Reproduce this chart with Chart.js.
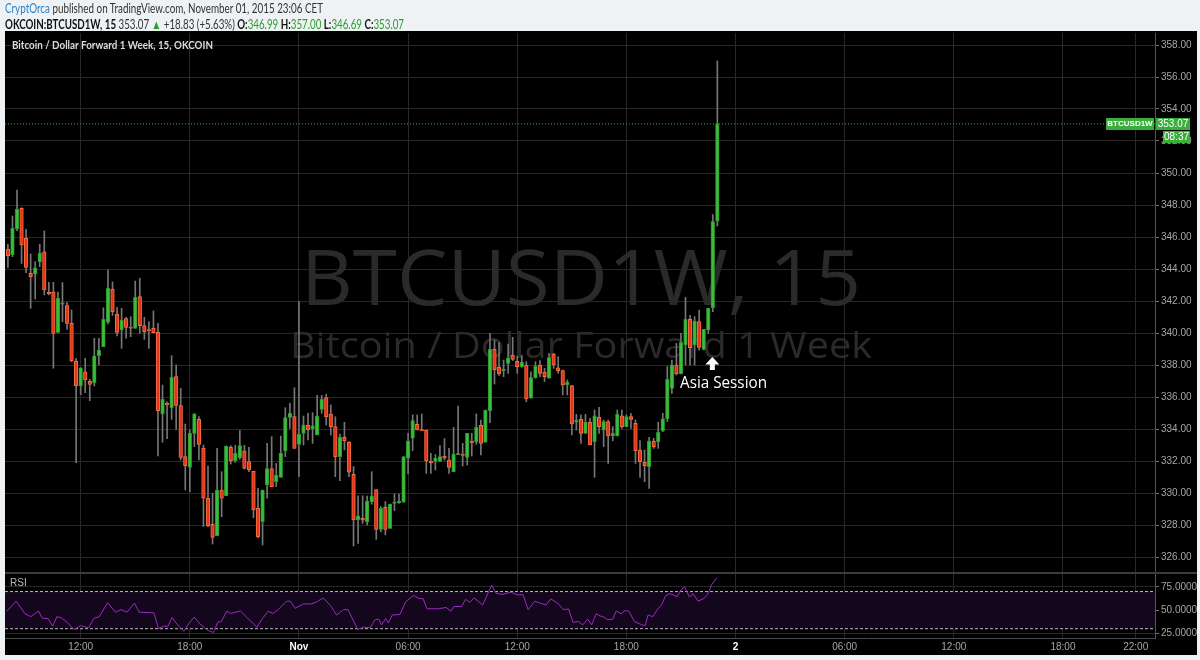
<!DOCTYPE html>
<html>
<head>
<meta charset="utf-8">
<title>BTCUSD1W, 15</title>
<script src="https://cdn.jsdelivr.net/npm/chart.js@4.4.0/dist/chart.umd.min.js"></script>
<style>
  html, body { margin: 0; padding: 0; background: #eff2f5; }
  #wrap { position: relative; width: 1200px; height: 660px; overflow: hidden; }
  #chart { position: absolute; left: 0; top: 0; }
  .head { position: absolute; left: 5px; font-family: Lato, 'Noto Sans', sans-serif; font-size: 13px;
          color: #333; white-space: nowrap; transform-origin: 0 0; line-height: 14px; }
  .author { color: #2a7fc4; }
  .up { color: #2a9d2a; }
  b { color: #111; }
</style>
</head>
<body>
<div id="wrap">
  <canvas id="chart" width="1200" height="660"></canvas>
  <div class="head" id="head1" style="top:1px"><span class="author">CryptOrca</span> published on TradingView.com, November 01, 2015 23:06 CET</div>
  <div class="head" id="head2" style="top:17px"></div>
</div>
<script>
// 15 min candles, Oct 31 08:00 -> Nov 1 23:00 (hours counted from Oct 31 00:00)
const firstHour = 8;
const opens = [
  345.25, 344.90, 346.50, 347.79, 345.92, 343.73, 343.69, 344.46, 345.08, 342.56,
  342.56, 340.04, 341.87, 341.71, 340.60, 338.25, 336.69, 337.58, 336.98, 336.90,
  338.58, 339.15, 340.67, 342.73, 341.17, 340.19, 340.90, 340.35, 340.29, 342.27,
  340.46, 340.20, 340.29, 340.04, 334.94, 335.60, 335.33, 337.27, 335.46, 332.27,
  331.60, 333.73, 334.60, 332.79, 329.67, 328.04, 327.33, 330.19, 329.83, 332.85,
  332.00, 332.21, 332.63, 331.96, 331.35, 329.04, 328.21, 330.50, 331.52, 330.71,
  330.98, 332.65, 334.73, 334.77, 333.04, 333.73, 334.25, 334.00, 333.63, 335.23,
  335.96, 334.92, 334.15, 332.27, 333.48, 333.19, 331.17, 328.31, 328.42, 328.20,
  329.46, 330.21, 327.73, 329.10, 327.79, 329.35, 329.40, 329.42, 332.17, 333.42,
  334.29, 333.94, 333.94, 331.98, 331.98, 331.98, 332.31, 332.06, 331.33, 332.40,
  332.44, 332.23, 333.25, 333.21, 334.23, 333.17, 335.15, 338.98, 337.85, 337.65,
  338.10, 338.60, 338.23, 337.90, 338.00, 335.92, 337.21, 338.00, 337.56, 337.17,
  338.69, 337.83, 337.65, 336.75, 336.71, 334.42, 334.60, 333.73, 334.44, 333.21,
  334.73, 333.94, 334.46, 333.58, 333.56, 334.83, 334.15, 334.77, 334.35, 332.69,
  331.92, 331.65, 333.25, 333.21, 333.90, 334.63, 336.54, 338.00, 337.44, 339.25,
  340.85, 339.25, 340.71, 338.98, 340.19, 341.58, 346.99
];
const highs = [
  345.54, 347.31, 348.94, 347.83, 346.48, 344.94, 344.46, 345.54, 346.38, 343.17,
  343.17, 342.56, 343.15, 341.92, 341.44, 338.42, 337.83, 338.42, 337.10, 339.67,
  339.67, 341.58, 343.94, 343.19, 341.60, 341.54, 340.98, 341.02, 343.25, 343.42,
  340.98, 340.71, 341.38, 340.60, 336.75, 335.70, 338.58, 338.00, 336.54, 334.31,
  333.94, 334.98, 334.77, 333.00, 331.69, 329.98, 332.79, 331.33, 332.94, 332.96,
  332.98, 333.90, 332.98, 332.85, 331.35, 330.29, 330.19, 333.10, 333.52, 331.85,
  333.56, 335.33, 335.60, 336.58, 341.96, 334.81, 334.98, 335.02, 336.10, 336.10,
  336.17, 335.50, 334.77, 333.69, 334.42, 333.21, 331.65, 329.83, 329.83, 329.81,
  331.33, 330.21, 329.15, 329.46, 329.31, 329.94, 329.94, 332.27, 333.73, 334.88,
  334.88, 334.94, 333.94, 332.48, 332.40, 332.96, 333.40, 332.79, 334.10, 335.44,
  333.10, 333.73, 333.73, 334.94, 334.56, 335.19, 339.98, 339.56, 339.40, 338.31,
  339.31, 339.73, 338.56, 338.60, 338.21, 337.58, 338.21, 338.27, 337.79, 338.73,
  338.73, 338.52, 337.69, 337.06, 336.71, 334.92, 334.88, 334.92, 334.67, 335.19,
  335.35, 334.56, 334.56, 334.15, 335.19, 335.19, 334.88, 334.98, 334.56, 333.27,
  332.69, 333.48, 333.42, 334.42, 334.98, 337.90, 338.31, 339.35, 339.98, 342.23,
  341.10, 341.02, 341.44, 340.23, 341.54, 347.40, 357.00
];
const lows = [
  344.10, 344.77, 346.40, 344.35, 343.77, 341.54, 342.13, 344.15, 342.38, 342.38,
  337.80, 340.00, 340.70, 340.23, 338.21, 331.90, 336.15, 336.27, 335.77, 336.69,
  338.00, 339.15, 340.56, 341.10, 339.81, 339.04, 339.67, 339.77, 340.29, 339.98,
  339.60, 339.04, 340.04, 332.31, 333.17, 333.40, 334.60, 333.98, 332.06, 330.19,
  330.08, 332.90, 332.06, 327.90, 327.90, 326.81, 327.33, 328.52, 329.83, 331.81,
  331.92, 332.10, 331.50, 331.33, 328.46, 327.20, 326.75, 329.67, 330.40, 330.40,
  330.98, 332.27, 334.04, 332.79, 331.02, 333.00, 333.31, 333.10, 333.63, 334.98,
  334.25, 333.63, 331.02, 330.77, 332.69, 331.02, 326.69, 326.85, 328.10, 328.00,
  329.30, 327.10, 327.58, 327.38, 327.79, 328.90, 329.35, 329.42, 331.19, 332.65,
  333.94, 333.90, 331.23, 331.23, 331.44, 331.98, 332.06, 331.23, 331.33, 332.40,
  331.69, 331.75, 332.31, 333.04, 332.38, 333.17, 334.40, 336.81, 337.35, 337.27,
  337.48, 338.27, 337.48, 337.85, 335.70, 335.92, 337.17, 337.27, 336.96, 337.17,
  337.79, 337.48, 336.13, 336.13, 333.63, 333.94, 333.10, 333.73, 333.00, 330.98,
  333.73, 332.90, 331.85, 333.27, 333.56, 334.04, 334.15, 334.04, 331.85, 330.98,
  330.71, 330.29, 332.79, 332.79, 333.83, 334.46, 336.23, 337.38, 337.44, 338.00,
  338.00, 338.00, 338.94, 338.94, 339.98, 341.33, 346.69
];
const closes = [
  344.83, 346.54, 347.73, 345.50, 344.10, 343.52, 344.08, 344.98, 342.69, 342.44,
  339.98, 342.19, 341.80, 340.60, 338.25, 336.69, 337.83, 337.06, 336.79, 338.58,
  338.94, 340.85, 342.79, 341.33, 340.04, 340.81, 340.35, 340.30, 342.23, 340.46,
  340.08, 340.15, 340.02, 335.15, 335.85, 335.50, 337.23, 335.48, 332.23, 331.71,
  333.73, 334.94, 333.04, 329.67, 327.96, 327.23, 330.19, 329.67, 332.94, 332.02,
  332.48, 332.96, 331.54, 331.44, 328.94, 327.27, 330.19, 331.52, 330.40, 331.12,
  332.48, 334.71, 334.98, 332.79, 333.69, 334.25, 333.94, 334.20, 334.81, 335.85,
  334.77, 334.15, 332.27, 333.48, 333.27, 331.30, 328.31, 328.58, 328.30, 329.50,
  329.81, 327.73, 329.04, 327.73, 329.31, 329.44, 329.50, 332.27, 333.25, 334.52,
  333.94, 333.90, 332.02, 331.90, 332.19, 332.27, 332.17, 331.60, 332.44, 332.44,
  332.35, 333.73, 333.15, 334.10, 333.10, 335.19, 338.98, 337.69, 337.44, 337.73,
  338.44, 338.35, 337.90, 338.19, 335.88, 337.21, 337.94, 337.48, 337.27, 338.46,
  338.00, 337.65, 336.75, 336.94, 334.31, 334.56, 333.73, 334.44, 333.00, 334.83,
  334.15, 334.46, 333.56, 333.73, 334.92, 334.15, 334.77, 334.60, 332.65, 331.96,
  331.71, 333.25, 332.90, 333.79, 334.63, 337.10, 338.00, 337.44, 339.40, 340.85,
  339.08, 340.75, 339.10, 340.23, 341.54, 346.96, 353.07
];

// RSI(14) line, points
const rsiHours = [
  7.94, 8.45, 8.94, 9.26, 9.68, 9.89, 10.21, 10.46, 10.69, 10.95, 11.26, 11.64, 12.00, 12.43,
  12.74, 13.02, 13.48, 13.91, 14.22, 14.54, 14.96, 15.22, 16.02, 16.28, 16.55, 16.80, 17.02,
  17.29, 17.67, 17.93, 18.24, 18.56, 18.98, 19.30, 19.55, 19.72, 20.04, 20.25, 20.78, 21.20,
  21.69, 21.99, 22.30, 22.58, 22.89, 23.32, 23.53, 23.80, 24.23, 24.69, 25.01, 25.33, 25.75,
  26.07, 26.45, 26.70, 27.23, 27.55, 27.91, 28.18, 28.39, 28.54, 28.77, 28.92, 29.13, 29.55,
  29.87, 30.30, 30.61, 30.82, 31.04, 31.67, 32.09, 32.35, 32.52, 32.94, 33.15, 33.40, 33.62,
  33.89, 34.10, 34.59, 34.84, 35.16, 35.65, 36.00, 36.32, 36.60, 36.96, 37.27, 37.59, 37.84,
  38.23, 38.54, 38.82, 39.07, 39.35, 39.60, 39.88, 40.09, 40.34, 40.55, 40.76, 40.97, 41.25,
  41.44, 41.71, 41.92, 42.14, 42.45, 42.87, 43.04, 43.19, 43.45, 43.72, 43.93, 44.14, 44.35,
  44.57, 44.78, 44.99, 45.20, 45.46, 45.67, 45.94, 46.26, 46.47, 46.68, 46.96
];
const rsiValues = [
  48.8, 59.7, 46.1, 43.0, 49.1, 41.3, 40.9, 32.7, 43.0, 41.6, 36.8, 29.0, 33.4, 31.0,
  41.3, 43.0, 58.0, 47.8, 50.5, 47.8, 57.4, 47.8, 47.1, 30.0, 32.7, 32.7, 42.0,
  35.1, 27.3, 35.1, 42.6, 35.1, 28.3, 25.9, 37.5, 37.5, 49.1, 46.4, 49.1, 40.9,
  31.7, 40.9, 48.8, 46.4, 51.2, 59.7, 59.7, 51.9, 56.7, 56.7, 59.1, 63.2, 54.6,
  44.7, 50.5, 50.5, 29.0, 31.7, 31.0, 39.6, 40.3, 34.1, 40.9, 36.2, 44.7, 45.4,
  59.1, 65.9, 62.5, 62.5, 51.5, 51.5, 52.9, 48.8, 53.9, 53.9, 61.5, 58.4, 63.2,
  59.1, 55.6, 76.8, 68.3, 66.9, 69.3, 66.6, 66.6, 50.5, 59.7, 57.4, 55.6, 62.1,
  57.4, 50.5, 51.2, 36.8, 37.9, 34.1, 40.3, 34.1, 46.1, 43.7, 42.6, 39.6, 40.3,
  49.1, 46.1, 49.5, 48.8, 37.5, 34.1, 33.4, 44.7, 43.0, 51.2, 55.6, 64.9, 67.6,
  66.6, 64.2, 71.7, 75.1, 64.2, 67.6, 59.7, 62.5, 66.9, 77.2, 84.7
];

const timeTicks = [12, 18, 24, 30, 36, 42, 48, 54, 60, 66, 70];
const timeLabels = ['12:00', '18:00', 'Nov', '06:00', '12:00', '18:00', '2', '06:00', '12:00', '18:00', '22:00'];
const dayTicks = [24, 48];
const priceTicks = [326, 328, 330, 332, 334, 336, 338, 340, 342, 344, 346, 348, 350, 352, 354, 356, 358];
const rsiTicks = [25, 50, 75];
const rsiBands = [70, 30];
const prevClose = 334.24;
const countdown = '08:37';

const xMin = 7.84, xMax = 71.06;
const UP = '#3dbd3d', UP_EDGE = '#2a9a2a';
const DOWN = '#e5331c', DOWN_EDGE = '#f07040';
const WICK = '#767676';
const GRID = '#282828';
const AXIS_FONT = 'Liberation Sans, Arial, sans-serif';

const hours = opens.map((_, i) => firstHour + i * 0.25);
const isUp = i => closes[i] >= opens[i];
const isDay = ctx => !!(ctx.tick && dayTicks.includes(ctx.tick.value));
const last = opens.length - 1;

// header line 2 from the last candle
const fmt = v => v.toFixed(2);
const chg = closes[last] - prevClose;
document.getElementById('head2').innerHTML =
  '<b>OKCOIN:BTCUSD1W, 15</b> ' + fmt(closes[last]) + ' <span class="up">&#9650;</span> +' + fmt(chg) +
  ' (+' + (chg / prevClose * 100).toFixed(2) + '%) ' +
  '<b>O:</b><span class="up">' + fmt(opens[last]) + '</span> ' +
  '<b>H:</b><span class="up">' + fmt(highs[last]) + '</span> ' +
  '<b>L:</b><span class="up">' + fmt(lows[last]) + '</span> ' +
  '<b>C:</b><span class="up">' + fmt(closes[last]) + '</span>';

// squeeze header lines to the width they take in the picture
function fitWidth(id, target) {
  const el = document.getElementById(id);
  const w = el.getBoundingClientRect().width;
  el.style.transform = 'scaleX(' + (target / w) + ')';
}
fitWidth('head1', 318);
fitWidth('head2', 399);

function fittedText(c, text, x, y, width, font, align) {
  c.font = font;
  const w = c.measureText(text).width;
  const s = width / w;
  c.save();
  c.translate(x, y);
  c.scale(s, 1);
  c.textAlign = align || 'left';
  c.fillText(text, 0, 0);
  c.restore();
}

const decorations = {
  id: 'decorations',
  beforeDraw(chart) {
    const c = chart.ctx;
    c.save();
    c.fillStyle = '#eff2f5';
    c.fillRect(0, 0, chart.width, chart.height);
    c.fillStyle = '#000';
    c.fillRect(5, 31, 1192, 624);
    c.restore();
  },
  beforeDatasetsDraw(chart) {
    const c = chart.ctx;
    c.save();
    c.fillStyle = '#2a2a2a';
    c.textBaseline = 'alphabetic';
    fittedText(c, 'BTCUSD1W, 15', 581, 305, 560, '77px "Open Sans", "Noto Sans", sans-serif', 'center');
    fittedText(c, 'Bitcoin / Dollar Forward 1 Week', 581, 358, 582, '37px "Open Sans", "Noto Sans", sans-serif', 'center');
    c.restore();
  },
  afterDraw(chart) {
    const c = chart.ctx;
    const y = chart.scales.y;
    const rsi = chart.scales.rsi;
    const x = chart.scales.x;
    c.save();
    // pane separator
    c.fillStyle = '#3c3c3c';
    c.fillRect(5, rsi.top - 1, 1192, 2);

    // title
    c.fillStyle = '#dcdcdc';
    c.textBaseline = 'middle';
    fittedText(c, 'Bitcoin / Dollar Forward 1 Week, 15, OKCOIN', 12, 45, 201, 'bold 12px Lato, "Noto Sans", sans-serif');

    // RSI pane label
    c.fillStyle = '#b8b8b8';
    c.font = '10px ' + AXIS_FONT;
    c.textAlign = 'left';
    c.fillText('RSI', 10, rsi.top + 10);

    // annotation
    const ax = x.getPixelForValue(hours[last]) - 5;
    c.fillStyle = '#fff';
    c.beginPath();
    c.moveTo(ax, 357);
    c.lineTo(ax + 7, 364.5);
    c.lineTo(ax + 2.5, 364.5);
    c.lineTo(ax + 2.5, 370);
    c.lineTo(ax - 2.5, 370);
    c.lineTo(ax - 2.5, 364.5);
    c.lineTo(ax - 7, 364.5);
    c.closePath();
    c.fill();
    c.textBaseline = 'alphabetic';
    fittedText(c, 'Asia Session', 680, 388, 87, '16px "Open Sans", "Noto Sans", sans-serif');

    // last price labels
    const py = Math.round(y.getPixelForValue(closes[last]));
    c.fillStyle = '#3aae3a';
    c.fillRect(1106, py - 6, 48, 12);
    c.fillRect(1156, py - 6, 34, 12);
    c.fillRect(1163, py + 7, 27, 12);
    c.fillStyle = '#fff';
    c.textBaseline = 'middle';
    c.textAlign = 'center';
    c.font = 'bold 8px ' + AXIS_FONT;
    c.fillText('BTCUSD1W', 1130, py);
    c.font = '10px ' + AXIS_FONT;
    c.fillText(fmt(closes[last]), 1173, py);
    c.fillText(countdown, 1176.5, py + 13);
    c.restore();
  }
};

const flat = v => [{ x: xMin, y: v }, { x: xMax, y: v }];

new Chart(document.getElementById('chart'), {
  type: 'bar',
  data: {
    datasets: [
      {
        type: 'line', label: 'RSI', yAxisID: 'rsi', order: 0,
        data: rsiHours.map((h, i) => ({ x: h, y: rsiValues[i] })),
        borderColor: '#9a2cbf', borderWidth: 1, pointRadius: 0, tension: 0
      },
      {
        label: 'body', yAxisID: 'y', order: 1,
        data: hours.map((h, i) => ({ x: h, y: [opens[i], closes[i]] })),
        backgroundColor: ctx => isUp(ctx.dataIndex) ? UP : DOWN,
        borderColor: ctx => isUp(ctx.dataIndex) ? UP_EDGE : DOWN_EDGE,
        borderWidth: 1, borderSkipped: false, barThickness: 3.6, minBarLength: 1, grouped: false
      },
      {
        label: 'wick', yAxisID: 'y', order: 2,
        data: hours.map((h, i) => ({ x: h, y: [lows[i], highs[i]] })),
        backgroundColor: WICK, barThickness: 1, grouped: false
      },
      {
        type: 'line', label: 'last', yAxisID: 'y', order: 3,
        data: flat(closes[last]),
        borderColor: '#3aae3a', borderWidth: 1, borderDash: [1, 2], pointRadius: 0
      },
      {
        type: 'line', label: 'upper', yAxisID: 'rsi', order: 5,
        data: flat(rsiBands[0]),
        borderColor: '#bdbdbd', borderWidth: 1, borderDash: [3, 2], pointRadius: 0
      },
      {
        type: 'line', label: 'lower', yAxisID: 'rsi', order: 6,
        data: flat(rsiBands[1]),
        borderColor: '#bdbdbd', borderWidth: 1, borderDash: [3, 2], pointRadius: 0,
        fill: '-1', backgroundColor: '#14061d'
      }
    ]
  },
  options: {
    responsive: false,
    animation: false,
    devicePixelRatio: 1,
    layout: { padding: { left: 5, top: 33, right: 0, bottom: 5 } },
    plugins: { legend: { display: false }, tooltip: { enabled: false } },
    scales: {
      x: {
        type: 'linear', min: xMin, max: xMax, offset: false,
        grid: { color: GRID, drawTicks: false, offset: false },
        border: { color: '#4a4a4a' },
        ticks: {
          autoSkip: false, maxRotation: 0, padding: 3,
          color: ctx => isDay(ctx) ? '#ffffff' : '#a6a6a6',
          font: ctx => ({ family: AXIS_FONT, size: 10, weight: isDay(ctx) ? 'bold' : 'normal' }),
          callback: v => { const k = timeTicks.indexOf(v); return k >= 0 ? timeLabels[k] : ''; }
        },
        afterBuildTicks: s => { s.ticks = timeTicks.map(v => ({ value: v })); },
        afterFit: s => { s.height = 17; }
      },
      y: {
        type: 'linear', position: 'right', stack: 'panes', stackWeight: 540,
        min: 325, max: 358.75, beginAtZero: false,
        grid: { color: GRID, tickColor: '#777', tickLength: 4 },
        border: { color: '#555' },
        ticks: { color: '#a6a6a6', padding: 2, font: { family: AXIS_FONT, size: 10 }, callback: v => v.toFixed(2) },
        afterBuildTicks: s => { s.ticks = priceTicks.map(v => ({ value: v })); },
        afterFit: s => { s.width = 45; }
      },
      rsi: {
        type: 'linear', position: 'right', stack: 'panes', stackWeight: 65,
        min: 20, max: 90, beginAtZero: false,
        grid: { color: GRID, tickColor: '#777', tickLength: 4 },
        border: { color: '#555' },
        ticks: { color: '#a6a6a6', padding: 2, font: { family: AXIS_FONT, size: 10 }, callback: v => v.toFixed(4) },
        afterBuildTicks: s => { s.ticks = rsiTicks.map(v => ({ value: v })); },
        afterFit: s => { s.width = 45; }
      }
    }
  },
  plugins: [decorations]
});
</script>
</body>
</html>
